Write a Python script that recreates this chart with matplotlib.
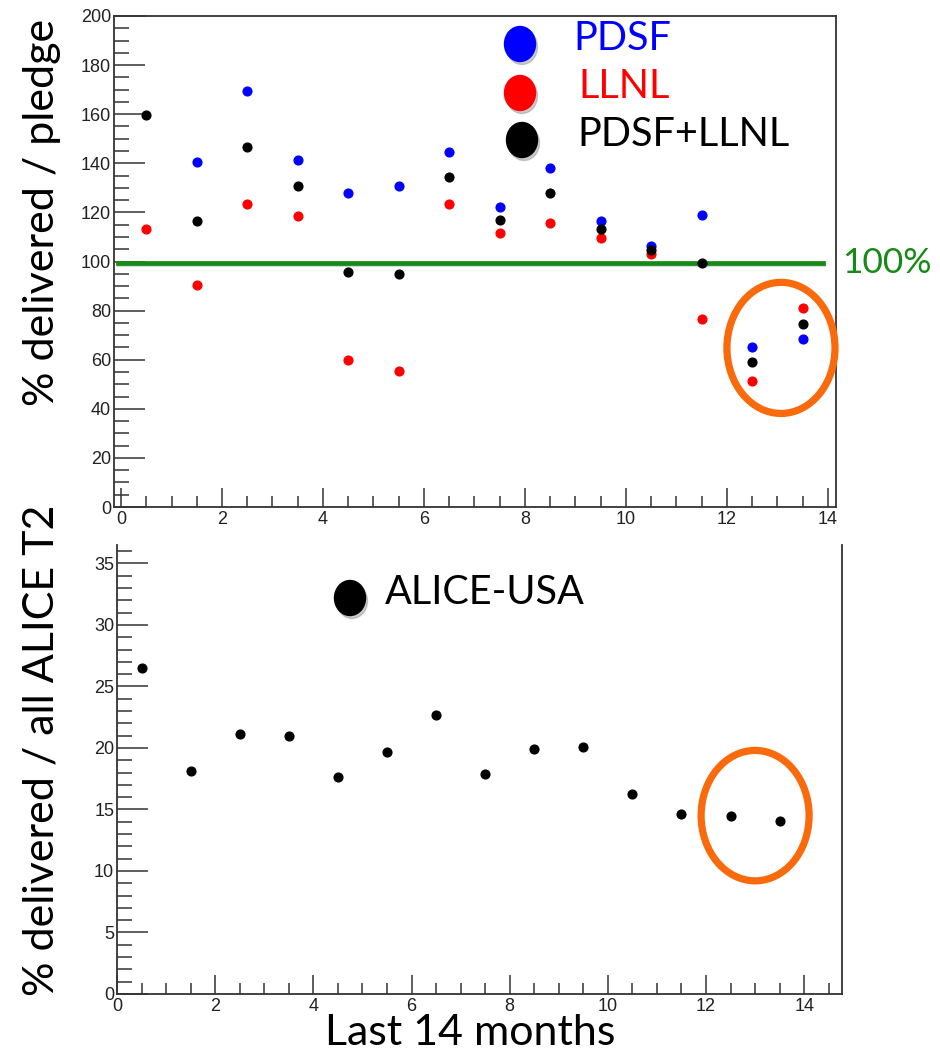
import matplotlib.pyplot as plt
from matplotlib.patches import Ellipse
from matplotlib.ticker import MultipleLocator
from matplotlib.transforms import ScaledTranslation

# months (bin centres) and values
months = [0.5, 1.5, 2.5, 3.5, 4.5, 5.5, 6.5, 7.5, 8.5, 9.5, 10.5, 11.5, 12.5, 13.5]
pdsf_months = months[1:]
pdsf = [140.5, 169.5, 141.3, 128.0, 130.8, 144.4, 122.3, 138.2, 116.6, 106.3, 119.0, 65.3, 68.4]
llnl = [113.3, 90.5, 123.5, 118.6, 59.9, 55.4, 123.5, 111.8, 115.5, 109.6, 103.2, 76.4, 51.3, 81.0]
pdsf_llnl = [159.5, 116.6, 146.8, 130.8, 95.9, 94.8, 134.5, 117.0, 127.9, 113.3, 104.8, 99.3, 58.9, 74.6]
alice_usa = [26.5, 18.15, 21.1, 21.0, 17.6, 19.7, 22.7, 17.85, 19.95, 20.1, 16.25, 14.6, 14.5, 14.1]

label_font = "Lato"
tick_font = "Liberation Sans"
orange = "#f96a0c"
green = "#168a16"

fig = plt.figure(figsize=(9.4, 10.55), dpi=100)


def style_axes(ax):
    ax.tick_params(which="both", direction="in", top=False, right=False,
                   labelsize=13, colors="#333333", labelcolor="#222222")
    ax.tick_params(axis="y", which="major", length=22, width=1.1, pad=2)
    ax.tick_params(axis="y", which="minor", length=11, width=1.1)
    ax.tick_params(axis="x", which="major", length=14, width=1.1, pad=3)
    ax.tick_params(axis="x", which="minor", length=8, width=1.1)
    for lab in ax.get_xticklabels() + ax.get_yticklabels():
        lab.set_fontfamily(tick_font)
    for sp in ax.spines.values():
        sp.set_color("#333333")
        sp.set_linewidth(1.3)


# ---- top panel: delivered / pledge
ax1 = fig.add_axes([114 / 940, 1 - 507 / 1055, 722 / 940, 491 / 1055])
ax1.plot(pdsf_months, pdsf, "o", color="blue", ms=6.3, zorder=3)
ax1.plot(months, llnl, "o", color="red", ms=6.3, zorder=3)
ax1.plot(months, pdsf_llnl, "o", color="black", ms=6.3, zorder=4)
shadow_tr = ax1.transData + ScaledTranslation(0.01, -0.02, fig.dpi_scale_trans)
ax1.plot([-0.05, 13.9], [99.5, 99.5], color="#b0b0b0", lw=3, alpha=0.5, zorder=1,
         transform=shadow_tr)
ax1.plot([-0.05, 13.9], [99.5, 99.5], color=green, lw=3.4, zorder=2, clip_on=False)
ax1.set_xlim(-0.139, 14.16)
ax1.set_ylim(0, 200)
ax1.xaxis.set_major_locator(MultipleLocator(2))
ax1.xaxis.set_minor_locator(MultipleLocator(0.5))
ax1.yaxis.set_major_locator(MultipleLocator(20))
ax1.yaxis.set_minor_locator(MultipleLocator(5))
style_axes(ax1)
ax1.add_patch(Ellipse((13.07, 64.8), 2.14, 53.4, fill=False, edgecolor=orange,
                      lw=5.2, clip_on=False, zorder=5))
ax1.text(14.29, 99.5, "100%", color=green, fontsize=25.5, family=label_font,
         va="center", ha="left", clip_on=False)

# ---- bottom panel: share of all ALICE T2
ax2 = fig.add_axes([117 / 940, 1 - 994 / 1055, 725 / 940, 449 / 1055])
ax2.plot(months, alice_usa, "o", color="black", ms=6.3, zorder=3)
ax2.set_xlim(0, 14.77)
ax2.set_ylim(0, 36.5)
ax2.xaxis.set_major_locator(MultipleLocator(2))
ax2.xaxis.set_minor_locator(MultipleLocator(0.5))
ax2.yaxis.set_major_locator(MultipleLocator(5))
ax2.yaxis.set_minor_locator(MultipleLocator(1))
ax2.spines["top"].set_visible(False)
style_axes(ax2)
ax2.add_patch(Ellipse((13.0, 14.5), 2.2, 10.6, fill=False, edgecolor=orange,
                      lw=5.2, clip_on=False, zorder=5))

# ---- legend-like markers and labels (drawn in pixel space)
legend_items = [("PDSF", "blue", 520, 44, 573), ("LLNL", "red", 520, 93, 578),
                ("PDSF+LLNL", "black", 522, 140, 577), ("ALICE-USA", "black", 350, 598, 385)]
for name, col, cx, cy, tx in legend_items:
    shadow = Ellipse(((cx + 2) / 100, (1055 - cy - 3) / 100), 0.31, 0.35,
                     transform=fig.dpi_scale_trans, color="#999999", alpha=0.5)
    dot = Ellipse((cx / 100, (1055 - cy) / 100), 0.31, 0.35,
                  transform=fig.dpi_scale_trans, color=col)
    fig.patches.extend([shadow, dot])
    fig.text(tx / 940, 1 - (cy - 6) / 1055, name, color=col, fontsize=28.5,
             family=label_font, va="center", ha="left")

fig.text(42 / 940, 1 - 212 / 1055, "% delivered / pledge", rotation=90,
         fontsize=31, family=label_font, va="center", ha="center")
fig.text(42 / 940, 1 - 750 / 1055, "% delivered / all ALICE T2", rotation=90,
         fontsize=31, family=label_font, va="center", ha="center")
fig.text(470 / 940, 1 - 1033 / 1055, "Last 14 months", fontsize=31,
         family=label_font, va="center", ha="center")

fig.savefig("out.png", dpi=100)
